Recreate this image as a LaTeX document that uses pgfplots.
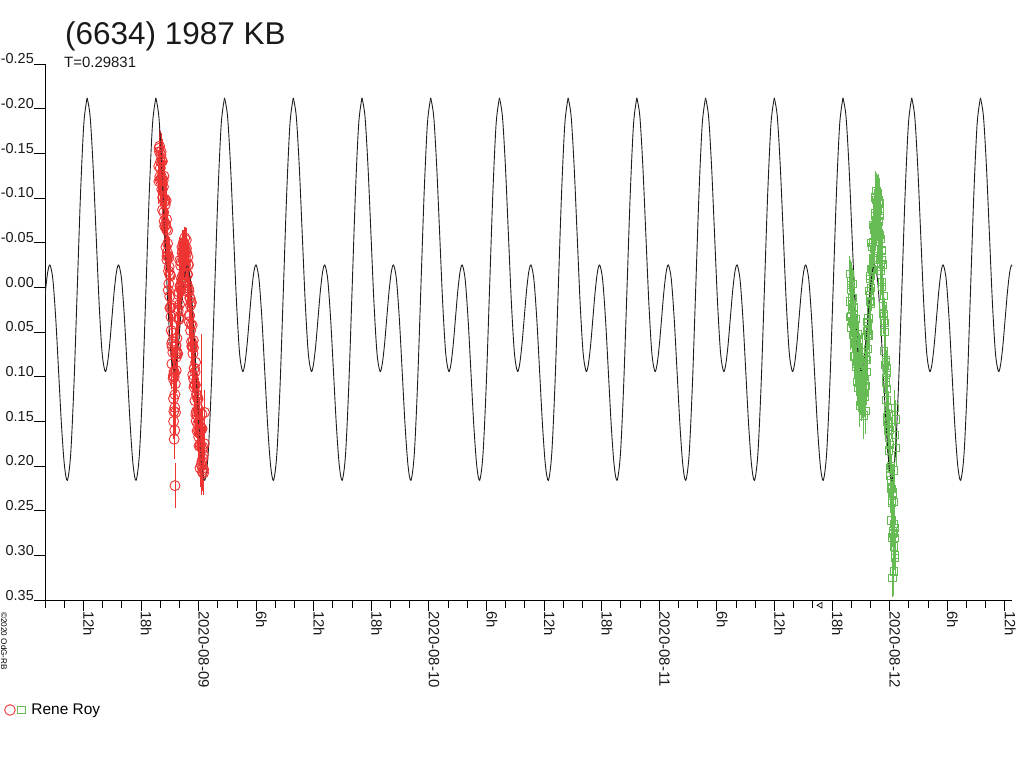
\documentclass[border=0pt]{standalone}
\usepackage{fontspec}
\setmainfont{Liberation Sans}
\usepackage{pgfplots}
\usepackage{pgfplotstable}
\pgfplotsset{compat=1.18}
\definecolor{rr}{RGB}{238,51,51}
\definecolor{gg}{RGB}{102,187,85}
\definecolor{curvec}{RGB}{30,30,30}

% one period of the model curve, phase in hours from the tall maximum
\pgfplotstableread{
p v
0 -0.212
0.3123 -0.1915
0.6247 -0.1355
0.937 -0.059
1.2493 0.0175
1.5617 0.0735
1.874 0.094
2.1097 0.0860
2.3453 0.0643
2.581 0.0345
2.8167 0.0048
3.0523 -0.0170
3.288 -0.025
3.5903 -0.0089
3.8927 0.0353
4.195 0.0955
4.4973 0.1558
4.7997 0.1999
5.102 0.216
5.4449 0.1873
5.7878 0.109
6.1307 0.002
6.4736 -0.105
6.8165 -0.1833
7.1594 -0.212
}\modelcurve

% hours from 2020-08-09 00:00
\pgfplotstableread{
x y e
-4.150 -0.1355 0.018
-4.075 -0.1518 0.024
-4.000 -0.1200 0.020
-3.925 -0.1483 0.027
-3.850 -0.1235 0.016
-3.775 -0.1410 0.022
-3.700 -0.1000 0.019
-3.625 -0.0840 0.025
-3.550 -0.0960 0.018
-3.475 -0.0925 0.024
-3.400 -0.0450 0.020
-3.325 -0.0760 0.027
-3.250 -0.0390 0.016
-3.175 -0.0353 0.022
-3.100 -0.0040 0.019
-3.025 -0.0148 0.025
-2.950 -0.0140 0.018
-2.875 0.0330 0.024
-2.800 0.0630 0.020
-2.725 0.0605 0.027
-2.650 0.1020 0.016
-2.575 0.1390 0.022
-2.500 0.0960 0.019
-2.425 0.1080 0.025
-2.350 0.0650 0.018
-2.275 0.0714 0.024
-2.200 0.0745 0.020
-2.125 0.0266 0.027
-2.050 0.0053 0.016
-1.975 0.0191 0.022
-1.900 -0.0010 0.019
-1.825 -0.0285 0.025
-1.750 -0.0070 0.018
-1.675 -0.0405 0.024
-1.600 -0.0300 0.020
-1.525 -0.0500 0.014
-1.450 -0.0288 0.019
-1.375 -0.0424 0.025
-1.300 -0.0300 0.018
-1.225 -0.0384 0.024
-1.150 0.0052 0.020
-1.075 -0.0259 0.027
-1.000 0.0045 0.016
-0.925 0.0319 0.022
-0.850 0.0203 0.019
-0.775 0.0176 0.025
-0.700 0.0660 0.018
-0.625 0.0658 0.024
-0.550 0.0595 0.020
-0.475 0.1118 0.027
-0.400 0.1090 0.016
-0.325 0.1093 0.022
-0.250 0.1495 0.019
-0.175 0.1213 0.025
-0.100 0.1530 0.018
-0.025 0.1363 0.024
0.050 0.1775 0.020
0.125 0.1599 0.027
0.200 0.1755 0.016
0.275 0.1581 0.022
0.350 0.1950 0.019
0.425 0.2025 0.025
0.500 0.1870 0.018
-4.1125 -0.1557 0.022
-4.0375 -0.1239 0.019
-3.9625 -0.1407 0.025
-3.8875 -0.1209 0.018
-3.8125 -0.1418 0.024
-3.7375 -0.1005 0.020
-3.6625 -0.1125 0.027
-3.5875 -0.0740 0.016
-3.5125 -0.0988 0.022
-3.4375 -0.0703 0.019
-3.3625 -0.0650 0.025
-3.2875 -0.0350 0.018
-3.2125 -0.0637 0.024
-3.1375 -0.0182 0.020
-3.0625 -0.0229 0.027
-2.9875 0.0231 0.016
-2.9125 0.0225 0.022
-2.8375 0.0205 0.019
-2.7625 0.0663 0.025
-2.6875 0.0728 0.018
-2.6125 0.1245 0.024
-2.5375 0.1005 0.020
-2.4625 0.1200 0.027
-2.3875 0.0745 0.016
-2.3125 0.0782 0.022
-2.2375 0.0740 0.019
-2.1625 0.0231 0.025
-2.0875 0.0345 0.018
-2.0125 0.0337 0.024
-1.9375 -0.0014 0.020
-1.8625 -0.0243 0.027
-1.7875 -0.0098 0.016
-1.7125 -0.0383 0.022
-1.6375 -0.0138 0.019
-1.5625 -0.0463 0.016
-1.4875 -0.0480 0.014
-1.4125 -0.0251 0.018
-1.3375 -0.0397 0.024
-1.2625 -0.0437 0.020
-1.1875 -0.0141 0.027
-1.1125 -0.0339 0.016
-1.0375 0.0013 0.022
-0.9625 0.0307 0.019
-0.8875 0.0121 0.025
-0.8125 0.0415 0.018
-0.7375 0.0608 0.024
-0.6625 0.0424 0.020
-0.5875 0.0742 0.027
-0.5125 0.1027 0.016
-0.4375 0.0904 0.022
-0.3625 0.0947 0.019
-0.2875 0.1424 0.025
-0.2125 0.1194 0.018
-0.1375 0.1432 0.024
-0.0625 0.1252 0.020
0.0125 0.1674 0.027
0.0875 0.1632 0.016
0.1625 0.1777 0.022
0.2375 0.1603 0.019
0.3125 0.1996 0.025
0.3875 0.1813 0.018
0.4625 0.1788 0.024
0.5375 0.2040 0.020
-4.13125 -0.1186 0.025
-4.05625 -0.1580 0.019
-3.98125 -0.1334 0.028
-3.90625 -0.1520 0.021
-3.83125 -0.1097 0.017
-3.75625 -0.0868 0.026
-3.68125 -0.1198 0.023
-3.60625 -0.1245 0.020
-3.53125 -0.0684 0.025
-3.45625 -0.0699 0.019
-3.38125 -0.0970 0.028
-3.30625 -0.0310 0.021
-3.23125 -0.0489 0.017
-3.15625 0.0032 0.026
-3.08125 -0.0335 0.023
-3.00625 0.0101 0.020
-2.93125 -0.0127 0.025
-2.85625 0.0483 0.019
-2.78125 0.0857 0.028
-2.70625 0.0512 0.021
-2.63125 0.0988 0.017
-2.55625 0.0943 0.026
-2.48125 0.1345 0.023
-2.40625 0.0653 0.020
-2.33125 0.0931 0.025
-2.25625 0.0572 0.019
-2.18125 0.0743 0.028
-2.10625 0.0081 0.021
-2.03125 0.0360 0.017
-1.95625 -0.0301 0.026
-1.88125 0.0013 0.023
-1.80625 0.0028 0.020
-1.73125 -0.0452 0.015
-1.65625 -0.0047 0.019
-1.58125 -0.0502 0.014
-1.50625 -0.0374 0.018
-1.43125 -0.0555 0.012
-1.35625 -0.0246 0.020
-1.28125 -0.0530 0.013
-1.20625 -0.0023 0.019
-1.13125 -0.0144 0.028
-1.05625 -0.0248 0.021
-0.98125 0.0386 0.017
-0.90625 0.0120 0.026
-0.83125 0.0484 0.023
-0.75625 0.0167 0.020
-0.68125 0.0662 0.025
-0.60625 0.0980 0.019
-0.53125 0.0676 0.028
-0.45625 0.0906 0.021
-0.38125 0.1269 0.017
-0.30625 0.0839 0.026
-0.23125 0.1390 0.023
-0.15625 0.1608 0.020
-0.08125 0.1241 0.025
-0.00625 0.1604 0.019
0.06875 0.1504 0.028
0.14375 0.2023 0.021
0.21875 0.1579 0.017
0.29375 0.1984 0.026
0.36875 0.1582 0.023
0.44375 0.1917 0.020
0.51875 0.2080 0.025
-2.457 0.2220 0.025
-2.540 0.1700 0.022
-2.600 0.1500 0.020
-2.400 0.1400 0.024
-2.480 0.1600 0.030
0.400 0.2070 0.020
0.620 0.1400 0.025
0.600 0.1750 0.020
0.350 0.1420 0.090
}\reddata

\pgfplotstableread{
x y e
67.900 0.0158 0.022
67.975 0.0030 0.028
68.050 0.0381 0.018
68.125 0.0119 0.025
68.200 0.0393 0.032
68.275 0.0235 0.020
68.350 0.0626 0.026
68.425 0.0768 0.019
68.500 0.0619 0.022
68.575 0.0620 0.028
68.650 0.1062 0.018
68.725 0.0695 0.025
68.800 0.0999 0.032
68.875 0.0962 0.020
68.950 0.1174 0.026
69.025 0.0960 0.019
69.100 0.0845 0.022
69.175 0.1144 0.028
69.250 0.1267 0.018
69.325 0.1006 0.025
69.400 0.1131 0.032
69.475 0.1380 0.026
69.550 0.0725 0.019
69.625 0.0814 0.022
69.700 0.0403 0.028
69.775 0.0484 0.018
69.850 0.0541 0.025
69.925 0.0089 0.032
70.000 -0.0124 0.020
70.075 0.0003 0.026
70.150 -0.0210 0.019
70.225 -0.0505 0.022
70.300 -0.0310 0.028
70.375 -0.0678 0.018
70.450 -0.0617 0.025
70.525 -0.1006 0.024
70.600 -0.0720 0.020
70.675 -0.0917 0.026
70.750 -0.0853 0.019
70.825 -0.0972 0.022
70.900 -0.0544 0.028
70.975 -0.0875 0.018
71.050 -0.0540 0.025
71.125 -0.0229 0.032
71.200 -0.0304 0.020
71.275 -0.0257 0.026
71.350 0.0299 0.019
71.425 0.0371 0.022
71.500 0.0396 0.028
71.575 0.1010 0.018
71.650 0.1065 0.025
71.725 0.1134 0.032
71.800 0.1612 0.020
71.875 0.1418 0.026
71.950 0.1825 0.019
72.025 0.1761 0.022
72.100 0.2251 0.028
72.175 0.2162 0.018
72.250 0.2413 0.025
72.325 0.2308 0.032
72.400 0.2753 0.020
72.475 0.2900 0.026
72.550 0.2807 0.019
67.9375 -0.0026 0.028
68.0125 0.0326 0.018
68.0875 0.0185 0.025
68.1625 0.0406 0.032
68.2375 0.0219 0.020
68.3125 0.0631 0.026
68.3875 0.0492 0.019
68.4625 0.0854 0.022
68.5375 0.0575 0.028
68.6125 0.0826 0.018
68.6875 0.0834 0.025
68.7625 0.1072 0.032
68.8375 0.0716 0.020
68.9125 0.1083 0.026
68.9875 0.0932 0.019
69.0625 0.1278 0.022
69.1375 0.1125 0.028
69.2125 0.0931 0.018
69.2875 0.1182 0.025
69.3625 0.0984 0.032
69.4375 0.1229 0.020
69.5125 0.0816 0.026
69.5875 0.0950 0.019
69.6625 0.0489 0.022
69.7375 0.0544 0.028
69.8125 0.0523 0.018
69.8875 0.0040 0.025
69.9625 0.0168 0.032
70.0375 0.0154 0.020
70.1125 -0.0209 0.026
70.1875 -0.0453 0.019
70.2625 -0.0328 0.022
70.3375 -0.0639 0.028
70.4125 -0.0433 0.018
70.4875 -0.0802 0.025
70.5625 -0.0978 0.032
70.6375 -0.0714 0.020
70.7125 -0.0920 0.026
70.7875 -0.1008 0.022
70.8625 -0.0733 0.022
70.9375 -0.0945 0.028
71.0125 -0.0588 0.018
71.0875 -0.0260 0.025
71.1625 -0.0407 0.032
71.2375 -0.0056 0.020
71.3125 0.0211 0.026
71.3875 0.0100 0.019
71.4625 0.0499 0.022
71.5375 0.0873 0.028
71.6125 0.0838 0.018
71.6875 0.0955 0.025
71.7625 0.1503 0.032
71.8375 0.1355 0.020
71.9125 0.1682 0.026
71.9875 0.1598 0.019
72.0625 0.2111 0.022
72.1375 0.2152 0.028
72.2125 0.2388 0.018
72.2875 0.2296 0.025
72.3625 0.2761 0.032
72.4375 0.2652 0.020
72.5125 0.2694 0.026
72.5875 0.3000 0.019
67.91875 0.0336 0.030
67.99375 -0.0072 0.021
68.06875 0.0253 0.026
68.14375 -0.0037 0.018
68.21875 0.0536 0.033
68.29375 0.0773 0.024
68.36875 0.0424 0.020
68.44375 0.0356 0.027
68.51875 0.0887 0.030
68.59375 0.0838 0.021
68.66875 0.0528 0.026
68.74375 0.1129 0.018
68.81875 0.0883 0.033
68.89375 0.1323 0.024
68.96875 0.0853 0.020
69.04375 0.1179 0.027
69.11875 0.0815 0.030
69.19375 0.1253 0.021
69.26875 0.1435 0.026
69.34375 0.0840 0.018
69.41875 0.1035 0.033
69.49375 0.0777 0.024
69.56875 0.1103 0.020
69.64375 0.0392 0.027
69.71875 0.0689 0.030
69.79375 0.0349 0.021
69.86875 0.0546 0.026
69.94375 -0.0096 0.018
70.01875 0.0180 0.033
70.09375 -0.0493 0.024
70.16875 -0.0192 0.020
70.24375 -0.0197 0.027
70.31875 -0.0700 0.030
70.39375 -0.0331 0.021
70.46875 -0.0830 0.026
70.54375 -0.0752 0.018
70.61875 -0.1080 0.020
70.69375 -0.0754 0.024
70.76875 -0.1060 0.020
70.84375 -0.0613 0.027
70.91875 -0.0745 0.030
70.99375 -0.0857 0.021
71.06875 -0.0190 0.026
71.14375 -0.0418 0.018
71.21875 -0.0005 0.033
71.29375 -0.0248 0.024
71.36875 0.0320 0.020
71.44375 0.0715 0.027
71.51875 0.0500 0.030
71.59375 0.0819 0.021
71.66875 0.1260 0.026
71.74375 0.0899 0.018
71.81875 0.1529 0.033
71.89375 0.1835 0.024
71.96875 0.1562 0.020
72.04375 0.2021 0.027
72.11875 0.2002 0.030
72.19375 0.2610 0.021
72.26875 0.2255 0.026
72.34375 0.2730 0.018
72.41875 0.2403 0.033
72.49375 0.2807 0.024
72.56875 0.3029 0.020
72.30 0.3250 0.022
72.42 0.3180 0.028
72.20 0.2800 0.020
72.55 0.1350 0.020
72.62 0.1480 0.022
72.58 0.1650 0.025
72.66 0.1800 0.020
72.48 0.2050 0.022
67.86 -0.0150 0.020
67.95 0.0450 0.025
70.80 -0.1050 0.022
71.70 0.1450 0.020
71.00 -0.0800 0.020
}\greendata

\begin{document}
\begin{tikzpicture}[x=1bp,y=1bp]
\useasboundingbox (0,0) rectangle (1024,768);
\begin{axis}[
  at={(45bp,168bp)}, anchor=south west,
  scale only axis, width=967bp, height=536bp,
  xmin=-16, xmax=84.75, ymin=-0.25, ymax=0.35,
  y dir=reverse,
  axis x line*=bottom, axis y line*=left,
  axis line style={line width=1bp, black},
  tick align=outside,
  major tick length=11bp, minor tick length=8bp,
  tick style={black, line width=0.9bp},
  xtick={-18,-12,...,84},
  xticklabels={{},12h,18h,2020-08-09,6h,12h,18h,2020-08-10,6h,12h,18h,2020-08-11,6h,12h,18h,2020-08-12,6h,12h},
  minor x tick num=2,
  ytick={-0.25,-0.20,-0.15,-0.10,-0.05,0,0.05,0.10,0.15,0.20,0.25,0.30,0.35},
  yticklabels={-0.25,-0.20,-0.15,-0.10,-0.05,0.00,0.05,0.10,0.15,0.20,0.25,0.30,0.35},
  xticklabel style={rotate=-90, anchor=base west, inner sep=0pt, font=\fontsize{15}{18}\selectfont, text=black!90},
  yticklabel style={anchor=base east, inner sep=0pt, font=\fontsize{14.5}{17}\selectfont, text=black!90},
  legend style={at={(-0.0424,-0.2052)}, anchor=west, draw=none, fill=none,
    font=\fontsize{15.5}{18}\selectfont, inner sep=0pt, nodes={inner sep=0pt}},
  legend cell align=left,
]
\addplot[forget plot, only marks, mark=o, mark size=5bp, rr, mark options={line width=0.9bp, fill=none},
  error bars/.cd, y dir=both, y explicit, error mark=none,
  error bar style={line width=0.9bp, rr}]
  table[x=x, y=y, y error=e] {\reddata};
\addplot[forget plot, only marks, mark=square, mark size=3.6bp, gg, mark options={line width=0.9bp, fill=none},
  error bars/.cd, y dir=both, y explicit, error mark=none,
  error bar style={line width=0.9bp, gg}]
  table[x=x, y=y, y error=e] {\greendata};
\pgfplotsinvokeforeach{0,...,14}{
  \addplot[curvec, line width=0.9bp, smooth, no marks, forget plot]
    table[x expr=\thisrow{p}+2.707+(#1-3)*7.1594, y=v] {\modelcurve};
}
\addlegendimage{legend image code/.code={
  \draw[rr, line width=0.9bp] (5.5bp,0bp) circle (5.3bp);
  \draw[gg, line width=0.9bp] (13.5bp,-3.7bp) rectangle (21bp,3.7bp);
  \path[draw=none] (0bp,0bp) -- (27bp,0bp);
}}
\addlegendentry{Rene Roy}
\end{axis}
\node[anchor=base west, inner sep=0pt, font=\fontsize{31.6}{36}\selectfont, text=black!90] at (65,723) {(6634) 1987 KB};
\node[anchor=base west, inner sep=0pt, font=\fontsize{15}{18}\selectfont, text=black!90] at (64,700.5) {T=0.29831};
\node[anchor=base west, inner sep=0pt, rotate=-90, font=\fontsize{8.2}{10}\selectfont, text=black] at (1,156) {©2020 OdG-RB};
\draw[black, line width=0.7bp] (822,165.5) -- (822,160) -- (817,162.7) -- cycle;
\end{tikzpicture}
\end{document}
